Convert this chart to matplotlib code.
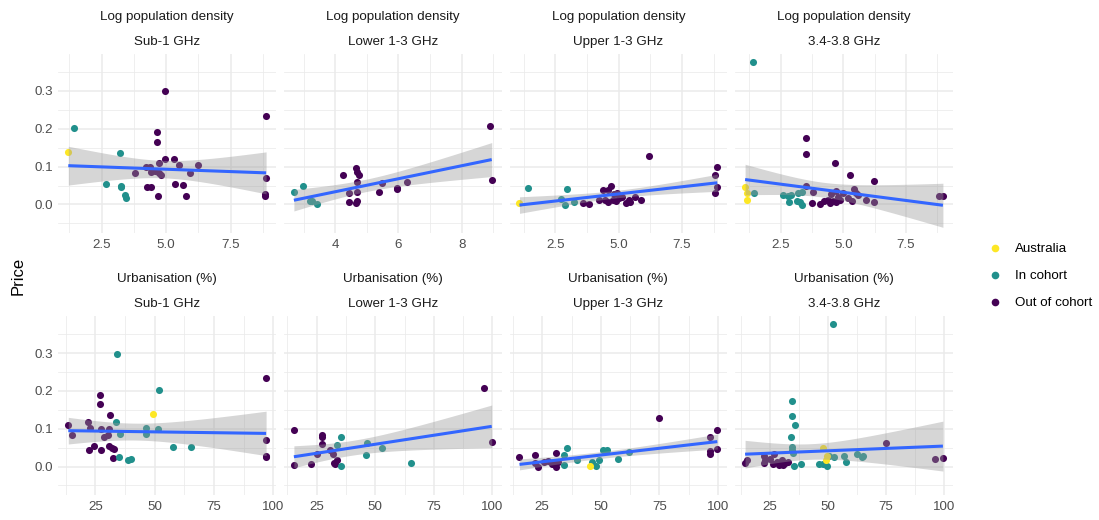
import numpy as np
import matplotlib
matplotlib.use("Agg")
import matplotlib.pyplot as plt
from matplotlib.lines import Line2D

plt.rcParams['font.family'] = ['Liberation Sans', 'DejaVu Sans']

# ----------------------- DATA -----------------------
# group codes: A = Australia, I = In cohort, O = Out of cohort
bands = ["Sub-1 GHz", "Lower 1-3 GHz", "Upper 1-3 GHz", "3.4-3.8 GHz"]
variables = ["Log population density", "Urbanisation (%)"]

# Log population density
dens_sub1_x = [1.21, 1.43, 3.21, 2.68, 3.24, 3.24, 3.41, 3.46,
               4.95, 4.66, 4.66, 8.88, 8.88, 8.85, 8.85, 4.95, 4.71, 5.31, 5.49, 6.25,
               5.94, 3.81, 4.22, 4.38, 4.41, 4.56, 4.74, 4.79, 4.25, 4.40, 4.69, 5.36,
               5.64, 5.77]
dens_sub1_y = [0.139, 0.203, 0.137, 0.054, 0.050, 0.047, 0.026, 0.017,
               0.300, 0.191, 0.164, 0.235, 0.069, 0.028, 0.023, 0.119, 0.110, 0.120, 0.103, 0.103,
               0.084, 0.082, 0.098, 0.098, 0.086, 0.088, 0.084, 0.078, 0.045, 0.045, 0.023, 0.053,
               0.052, 0.021]
dens_sub1_g = "AIIIIIII" + "O" * 26

dens_low_x = [2.69, 2.98, 3.25, 3.42, 3.20,
              8.89, 8.95, 4.24, 4.66, 4.69, 4.75, 4.69, 4.70, 4.43, 4.43, 4.64, 4.69,
              5.38, 5.49, 5.95, 5.95, 6.26]
dens_low_y = [0.034, 0.049, 0.008, 0.001, 0.009,
              0.207, 0.064, 0.078, 0.097, 0.086, 0.079, 0.060, 0.033, 0.029, 0.007, 0.004, 0.009,
              0.032, 0.057, 0.044, 0.041, 0.060]
dens_low_g = "IIIII" + "O" * 17

dens_up_x = [1.08, 1.41, 2.96, 2.70, 2.86, 3.24,
             6.21, 8.89, 8.80, 8.89, 8.78, 3.58, 3.84, 4.37, 4.70, 4.59, 4.21, 4.47, 4.57,
             4.82, 4.91, 4.88, 5.12, 5.29, 5.39, 5.45, 5.63, 5.86, 4.76, 5.00]
dens_up_y = [0.004, 0.044, 0.042, 0.014, -0.001, 0.007,
             0.129, 0.098, 0.078, 0.047, 0.031, 0.004, 0.002, 0.037, 0.048, 0.037, 0.013, 0.011, 0.006,
             0.027, 0.031, 0.008, 0.019, 0.003, 0.011, 0.007, 0.019, 0.011, 0.013, 0.016]
dens_up_g = "AIIIII" + "O" * 24

dens_c_x = [1.08, 1.14, 1.16,
            1.40, 1.44, 2.61, 2.80, 2.90, 2.84, 3.20, 3.37, 3.16, 3.27, 3.35,
            3.53, 3.53, 4.68, 5.28, 6.23, 3.53, 3.80, 3.76, 4.06, 4.22, 4.39, 4.46, 4.50,
            4.72, 4.79, 4.89, 4.70, 5.00, 5.33, 5.41, 5.52, 5.58, 5.90, 6.23, 8.82, 8.98,
            5.19, 4.59]
dens_c_y = [0.047, 0.029, 0.011,
            0.376, 0.029, 0.026, 0.023, 0.026, 0.007, 0.031, 0.034, 0.008, 0.006, -0.001,
            0.175, 0.133, 0.110, 0.079, 0.062, 0.049, 0.033, 0.004, 0.000, 0.008, 0.011, 0.005, 0.027,
            0.036, 0.020, 0.013, 0.007, 0.031, 0.008, 0.041, 0.031, 0.024, 0.011, 0.006, 0.021, 0.023,
            0.016, 0.009]
dens_c_g = "AAA" + "I" * 11 + "O" * 28

# Urbanisation (%)
urb_sub1_x = [49.1,
              34.1, 51.9, 33.7, 35.5, 46.2, 46.2, 51.2, 57.7, 65.4, 35.0, 38.7, 40.1,
              13.6, 15.2, 22.1, 22.6, 22.3, 24.6, 27.1, 27.1, 27.4, 27.4, 31.0, 30.8,
              28.8, 30.2, 30.8, 31.9, 32.7, 32.3, 96.9, 96.9, 96.9, 96.9]
urb_sub1_y = [0.139,
              0.298, 0.201, 0.119, 0.087, 0.102, 0.085, 0.098, 0.051, 0.051, 0.026, 0.017, 0.020,
              0.111, 0.084, 0.119, 0.103, 0.045, 0.055, 0.190, 0.164, 0.098, 0.045, 0.136, 0.099,
              0.078, 0.083, 0.054, 0.050, 0.047, 0.023, 0.233, 0.069, 0.029, 0.024]
urb_sub1_g = "A" + "I" * 12 + "O" * 22

urb_low_x = [15.3, 15.3, 22.6, 27.1, 27.4, 27.1, 25.0, 30.7, 31.8, 32.4, 33.5, 32.8, 96.3, 99.7,
             35.5, 33.8, 35.2, 46.3, 46.1, 52.9, 65.3]
urb_low_y = [0.097, 0.004, 0.007, 0.084, 0.077, 0.059, 0.034, 0.045, 0.033, 0.009, 0.016, 0.006,
             0.207, 0.064,
             0.079, 0.057, 0.001, 0.061, 0.030, 0.050, 0.009]
urb_low_g = "O" * 14 + "I" * 7

urb_up_x = [15.3, 22.1, 23.3, 22.0, 30.8, 30.7, 25.9, 27.6, 29.0, 31.8, 30.1, 74.9, 99.7, 96.6,
            99.7, 96.6, 96.6,
            35.6, 34.1, 34.4, 40.0, 46.1, 47.8, 49.4, 50.9, 52.6, 57.2, 62.2,
            45.3]
urb_up_y = [0.026, 0.030, -0.001, 0.010, 0.037, -0.001, 0.012, 0.014, 0.008, 0.011, 0.012, 0.128,
            0.097, 0.077, 0.047, 0.040, 0.032,
            0.048, 0.030, 0.003, 0.016, 0.011, 0.001, 0.017, 0.043, 0.043, 0.020, 0.039,
            0.002]
urb_up_g = "O" * 17 + "I" * 11 + "A"

urb_c_x = [52.3, 34.3, 34.3, 35.6, 33.8, 34.2, 34.5, 34.8, 35.3, 38.5, 46.0, 47.8, 49.4, 50.6,
           52.7, 57.0, 57.6, 62.4, 64.5, 65.2,
           47.8, 49.4, 49.1,
           75.0, 96.3, 99.7, 14.1, 14.9, 22.1, 22.1, 22.8, 26.7, 26.1, 27.9, 29.3, 30.7, 31.5,
           32.5, 30.2, 25.0, 28.6]
urb_c_y = [0.376, 0.173, 0.134, 0.111, 0.078, 0.052, 0.045, 0.036, 0.001, 0.007, 0.008, 0.008,
           0.002, 0.027, 0.026, 0.029, 0.013, 0.034, 0.026, 0.029,
           0.048, 0.028, 0.016,
           0.062, 0.020, 0.022, 0.009, 0.018, 0.027, 0.010, 0.018, 0.033, 0.008, 0.012, 0.010,
           0.003, 0.010, 0.013, 0.018, 0.020, 0.004]
urb_c_g = "I" * 20 + "AAA" + "O" * 18

panels = [
    [(dens_sub1_x, dens_sub1_y, dens_sub1_g), (dens_low_x, dens_low_y, dens_low_g),
     (dens_up_x, dens_up_y, dens_up_g), (dens_c_x, dens_c_y, dens_c_g)],
    [(urb_sub1_x, urb_sub1_y, urb_sub1_g), (urb_low_x, urb_low_y, urb_low_g),
     (urb_up_x, urb_up_y, urb_up_g), (urb_c_x, urb_c_y, urb_c_g)],
]

group_names = {"A": "Australia", "I": "In cohort", "O": "Out of cohort"}
group_colors = {"A": "#FDE725", "I": "#21908C", "O": "#440154"}


# ----------------------- LM FIT WITH 95% CI -----------------------
def t975(df):
    z = 1.959964
    return z + (z**3 + z) / (4 * df) + (5 * z**5 + 16 * z**3 + 3 * z) / (96 * df**2)


def lm_band(x, y, n_pts=80):
    x = np.asarray(x, float)
    y = np.asarray(y, float)
    n = len(x)
    b, a = np.polyfit(x, y, 1)
    resid = y - (a + b * x)
    s = np.sqrt(np.sum(resid**2) / (n - 2))
    xbar = x.mean()
    sxx = np.sum((x - xbar)**2)
    xs = np.linspace(x.min(), x.max(), n_pts)
    fit = a + b * xs
    se = s * np.sqrt(1.0 / n + (xs - xbar)**2 / sxx)
    t = t975(n - 2)
    return xs, fit, fit - t * se, fit + t * se


# ----------------------- FIGURE -----------------------
fig = plt.figure(figsize=(10.99, 5.2), dpi=100)
W, H = 1099.0, 520.0
left0 = 58.4
pw, gap = 217.6, 8.0
row_top = [54.2, 316.3]
ph = 179.0
ylim = (-0.076, 0.397)

for r in range(2):
    for c in range(4):
        x, y, g = panels[r][c]
        x = np.asarray(x)
        y = np.asarray(y)
        g = np.array(list(g))
        ax = fig.add_axes([(left0 + c * (pw + gap)) / W, 1 - (row_top[r] + ph) / H, pw / W, ph / H])

        for code in ["O", "I", "A"]:
            m = g == code
            ax.scatter(x[m], y[m], s=26, color=group_colors[code], linewidths=0, zorder=2)

        xs, fit, lo, hi = lm_band(x, y)
        ax.fill_between(xs, lo, hi, color="#999999", alpha=0.4, linewidth=0, zorder=3)
        ax.plot(xs, fit, color="#3366FF", linewidth=2.2, zorder=4, solid_capstyle="butt")

        rng = x.max() - x.min()
        ax.set_xlim(x.min() - 0.05 * rng, x.max() + 0.05 * rng)
        ax.set_ylim(*ylim)

        if r == 0:
            if c == 1:
                ax.set_xticks([4, 6, 8])
                ax.set_xticks([3, 5, 7, 9], minor=True)
                ax.set_xticklabels(["4", "6", "8"])
            else:
                ax.set_xticks([2.5, 5.0, 7.5])
                ax.set_xticks([1.25, 3.75, 6.25, 8.75], minor=True)
                ax.set_xticklabels(["2.5", "5.0", "7.5"])
        else:
            ax.set_xticks([25, 50, 75, 100])
            ax.set_xticks([12.5, 37.5, 62.5, 87.5], minor=True)
            ax.set_xticklabels(["25", "50", "75", "100"])

        ax.set_yticks([0.0, 0.1, 0.2, 0.3])
        ax.set_yticks([-0.05, 0.05, 0.15, 0.25, 0.35], minor=True)
        if c == 0:
            ax.set_yticklabels(["0.0", "0.1", "0.2", "0.3"])
        else:
            ax.set_yticklabels([])

        ax.grid(True, which="major", color="#EBEBEB", linewidth=1.1, zorder=0)
        ax.grid(True, which="minor", color="#EBEBEB", linewidth=0.55, zorder=0)
        ax.set_axisbelow(True)
        for sp in ax.spines.values():
            sp.set_visible(False)
        ax.tick_params(which="both", length=0, labelsize=9.6, labelcolor="#4D4D4D", pad=4)
        ax.set_facecolor("white")

        # strip labels
        ax.text(0.5, 1 + 37.5 / ph, variables[r], transform=ax.transAxes, ha="center", va="center",
                fontsize=9.6, color="#1A1A1A")
        ax.text(0.5, 1 + 12.0 / ph, bands[c], transform=ax.transAxes, ha="center", va="center",
                fontsize=9.6, color="#1A1A1A")

fig.text(18 / W, 1 - 276 / H, "Price", rotation=90, ha="center", va="center", fontsize=12, color="black")

handles = [Line2D([0], [0], marker="o", linestyle="", markersize=5.5, markerfacecolor=group_colors[k],
                  markeredgewidth=0) for k in ["A", "I", "O"]]
fig.legend(handles, [group_names[k] for k in ["A", "I", "O"]], loc="center left",
           bbox_to_anchor=(975 / W, 1 - 276 / H), frameon=False, fontsize=9.6,
           handletextpad=0.9, labelspacing=1.1, handlelength=1.2)

fig.savefig("out.png", dpi=100, facecolor="white")
